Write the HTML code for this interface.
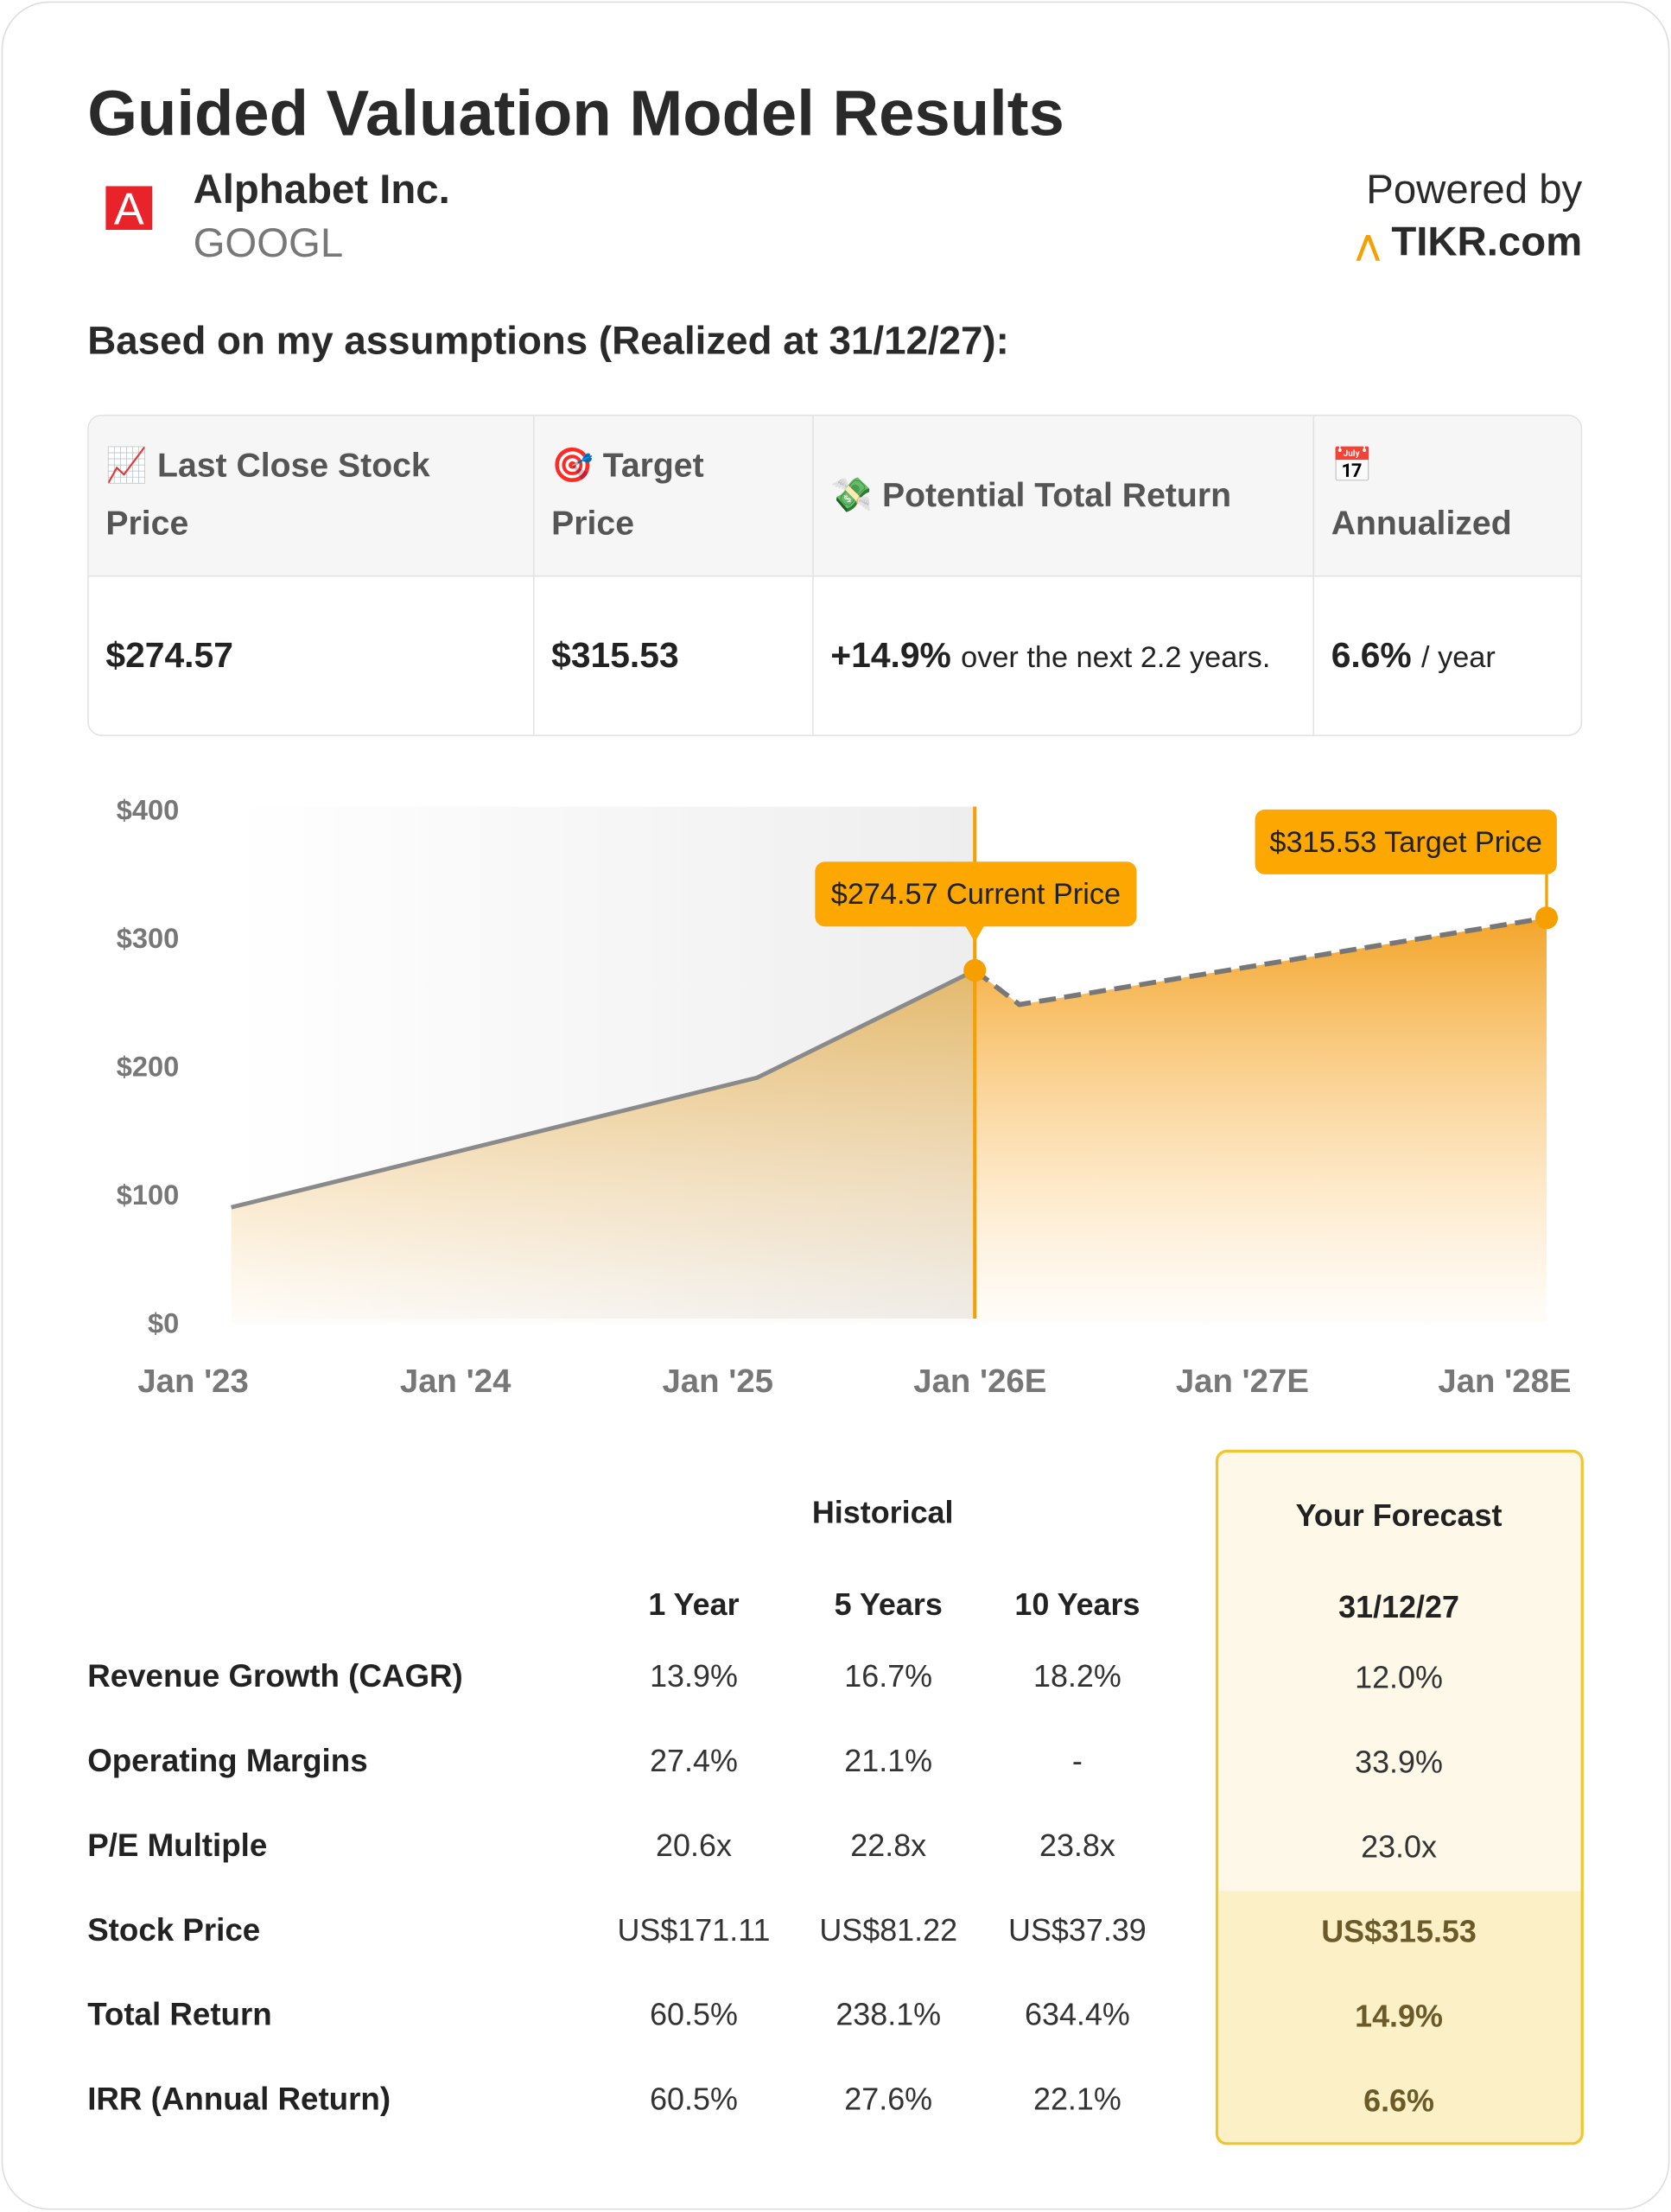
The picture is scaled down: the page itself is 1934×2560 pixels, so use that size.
<!DOCTYPE html>
<html><head><meta charset="utf-8">
<style>
html,body{margin:0;padding:0;background:#fff;}
body{width:1934px;height:2560px;overflow:hidden;}
#wrap{position:absolute;left:0;top:0;width:1185px;height:1568px;transform:scale(1.6321);transform-origin:0 0;font-family:"Liberation Sans","DejaVu Sans",sans-serif;color:#222;}
.card{position:absolute;left:1px;top:1px;width:1181px;height:1564px;border:1.5px solid #ddd;border-radius:34px;background:#fff;}
.abs{position:absolute;white-space:nowrap;}
.tbl{position:absolute;left:62px;top:294px;width:1058px;height:226px;border:1.5px solid #e3e3e3;border-radius:10px;overflow:hidden;}
.hdr{position:absolute;top:0;height:113px;background:#f6f6f6;border-bottom:1.5px solid #e3e3e3;}
.col{position:absolute;top:0;height:226px;border-left:1.5px solid #e3e3e3;}
.ht{font-size:24px;font-weight:bold;color:#555;line-height:41px;}
.val{font-size:25px;font-weight:bold;color:#222;}
.r{font-size:22.5px;font-weight:bold;color:#222;}
.v{font-size:22px;color:#333;text-align:center;width:160px;margin-left:-80px;}
.fv{font-size:22px;text-align:center;width:200px;margin-left:-100px;}
</style></head><body>
<div id="wrap">
<div class="card"></div>
<div class="abs" style="left:62px;top:55px;font-size:45.5px;font-weight:bold;color:#2a2a2a;">Guided Valuation Model Results</div>
<div class="abs" style="left:75px;top:132px;width:33px;height:31px;background:#e8232a;color:#fff;font-size:32px;line-height:33px;text-align:center;">A</div>
<div class="abs" style="left:137px;top:119px;font-size:29px;font-weight:bold;color:#2a2a2a;">Alphabet Inc.</div>
<div class="abs" style="left:137px;top:157px;font-size:29px;color:#777;">GOOGL</div>
<div class="abs" style="right:63px;top:119px;font-size:29px;color:#2a2a2a;">Powered by</div>
<div class="abs" style="right:63px;top:156px;font-size:29px;font-weight:bold;color:#2a2a2a;"><span style="color:#f5a000;font-size:20px;">⋀</span> TIKR.com</div>
<div class="abs" style="left:62px;top:226px;font-size:28px;font-weight:bold;color:#2a2a2a;">Based on my assumptions (Realized at 31/12/27):</div>

<div class="tbl">
  <div class="hdr" style="left:0;width:1060px;"></div>
  <div class="col" style="left:315px;"></div><div class="col" style="left:513px;"></div><div class="col" style="left:868px;"></div>
  <div class="abs ht" style="left:12px;top:15px;">📈 Last Close Stock<br>Price</div>
  <div class="abs ht" style="left:328px;top:15px;">🎯 Target<br>Price</div>
  <div class="abs ht" style="left:526px;top:36px;">💸 Potential Total Return</div>
  <div class="abs ht" style="left:881px;top:15px;">📅<br>Annualized</div>
  <div class="abs val" style="left:12px;top:156px;">$274.57</div>
  <div class="abs val" style="left:328px;top:156px;">$315.53</div>
  <div class="abs val" style="left:526px;top:156px;">+14.9% <span style="font-size:21px;font-weight:normal;">over the next 2.2 years.</span></div>
  <div class="abs val" style="left:881px;top:156px;">6.6% <span style="font-size:21px;font-weight:normal;">/ year</span></div>
</div>

<svg id="chart" style="position:absolute;left:0;top:550px;" width="1185" height="460" viewBox="0 550 1185 460">
<defs>
<linearGradient id="gShade" x1="0" y1="0" x2="1" y2="0"><stop offset="0" stop-color="#fff"/><stop offset="1" stop-color="#eeeeee"/></linearGradient>
<linearGradient id="gHist" x1="0" y1="0" x2="0" y2="1"><stop offset="0" stop-color="#e0ab4a" stop-opacity="0.8"/><stop offset="1" stop-color="#f7c77a" stop-opacity="0.05"/></linearGradient>
<linearGradient id="gFc" x1="0" y1="0" x2="0" y2="1"><stop offset="0" stop-color="#f2a01e" stop-opacity="0.95"/><stop offset="1" stop-color="#ffd08a" stop-opacity="0.05"/></linearGradient>
</defs>
<g id="g"></g>
</svg>

<div class="abs" style="left:626px;top:1060px;font-size:22px;font-weight:bold;transform:translateX(-50%);">Historical</div>
<div class="abs" style="left:862px;top:1028px;width:257px;height:489px;border:2px solid #f0c630;border-radius:8px;background:#fdf8e7;overflow:hidden;">
  <div style="position:absolute;left:0;top:311px;width:100%;height:200px;background:#fbf0c6;"></div>
</div>
<div class="abs" style="left:992px;top:1062px;font-size:22px;font-weight:bold;transform:translateX(-50%);">Your Forecast</div>
<div id="ftable"></div>
</div>

<script>
// Chart data
const years = [2023.145, 2025.15, 2025.98, 2026.15, 2028.16];
const prices = [90, 191, 274.57, 248, 315.53];
const currentIndex = 2;
const yTicks = [0, 100, 200, 300, 400];
const yTickLabels = ['$0', '$100', '$200', '$300', '$400'];
const xTicks = [2023, 2024, 2025, 2026, 2027, 2028];
const xTickLabels = ["Jan '23", "Jan '24", "Jan '25", "Jan '26E", "Jan '27E", "Jan '28E"];

const NS = 'http://www.w3.org/2000/svg';
const X = t => 137 + (t - 2023) * 186;
const Y = v => 938 - v / 400 * 364;
const g = document.getElementById('g');
function mk(tag, attrs, text) {
  const e = document.createElementNS(NS, tag);
  for (const k in attrs) e.setAttribute(k, attrs[k]);
  if (text !== undefined) e.textContent = text;
  g.appendChild(e);
  return e;
}
const x0 = X(years[0]), xc = X(years[currentIndex]), xe = X(years[years.length - 1]);
let el = mk('rect', {x: x0, y: Y(400) - 2, width: xc - x0, height: Y(0) - Y(400) - 1, fill: 'url(#gShade)'});



yTicks.forEach((v, i) => {
  const t = mk('text', {x: 127, y: Y(v) + 7, 'text-anchor': 'end', 'font-size': 20, 'font-weight': 'bold', fill: '#777'}, yTickLabels[i]);
  
  
});
xTicks.forEach((v, i) => {
  const t = mk('text', {x: X(v), y: 987, 'text-anchor': 'middle', 'font-size': 23.5, 'font-weight': 'bold', fill: '#777'}, xTickLabels[i]);
  
  
});

const hist = years.slice(0, currentIndex + 1).map((t, i) => [X(t), Y(prices[i])]);
const fc = years.slice(currentIndex).map((t, i) => [X(t), Y(prices[i + currentIndex])]);
const pts = a => a.map(p => p.join(',')).join(' ');
el = mk('polygon', {points: pts(hist) + ' ' + xc + ',' + Y(0) + ' ' + x0 + ',' + Y(0), fill: 'url(#gHist)'});


el = mk('polygon', {points: pts(fc) + ' ' + xe + ',' + Y(0) + ' ' + xc + ',' + Y(0), fill: 'url(#gFc)'});


el = mk('polyline', {points: pts(hist), fill: 'none', stroke: '#8a8a8a', 'stroke-width': 3});


el = mk('polyline', {points: pts(fc), fill: 'none', stroke: '#777', 'stroke-width': 3.5, 'stroke-dasharray': '12 6'});


el = mk('line', {x1: xc, x2: xc, y1: Y(400) - 2, y2: Y(0) - 3, stroke: '#f5a000', 'stroke-width': 2.5});



function callout(px, py, bx, by, w, label, name) {
  mk('line', {x1: px, x2: px, y1: by + 46, y2: py, stroke: '#f5a000', 'stroke-width': 2});
  const r = mk('rect', {x: bx, y: by, width: w, height: 46, rx: 7, fill: '#fca702'});
  
  
  const t = mk('text', {x: bx + w / 2, y: by + 30, 'text-anchor': 'middle', 'font-size': 21, fill: '#222'}, label);
  
  
  const c = mk('circle', {cx: px, cy: py, r: 8, fill: '#f5a000'});
  
  
}
callout(xc, Y(prices[currentIndex]), 578, 611, 228, '$' + prices[currentIndex].toFixed(2) + ' Current Price', 'current-price');
mk('polygon', {points: (xc - 7) + ',656 ' + (xc + 7) + ',656 ' + xc + ',668', fill: '#fca702'});
callout(xe, Y(prices[prices.length - 1]), 890, 574, 214, '$' + prices[prices.length - 1].toFixed(2) + ' Target Price', 'target-price');

// Bottom table
const rows = ['Revenue Growth (CAGR)', 'Operating Margins', 'P/E Multiple', 'Stock Price', 'Total Return', 'IRR (Annual Return)'];
const colHeads = ['1 Year', '5 Years', '10 Years'];
const colX = [492, 630, 764];
const vals = [['13.9%','16.7%','18.2%'],['27.4%','21.1%','-'],['20.6x','22.8x','23.8x'],['US$171.11','US$81.22','US$37.39'],['60.5%','238.1%','634.4%'],['60.5%','27.6%','22.1%']];
const fvals = ['12.0%','33.9%','23.0x','US$315.53','14.9%','6.6%'];
const ft = document.getElementById('ftable');
let html = '';
colHeads.forEach((h, i) => { html += `<div class="abs v" style="left:${colX[i]}px;top:1125px;font-weight:bold;font-size:22px;color:#222;">${h}</div>`; });
html += `<div class="abs fv" style="left:992px;top:1127px;font-weight:bold;font-size:22px;color:#222;">31/12/27</div>`;
rows.forEach((r, i) => {
  const y = 1176 + i * 60;
  html += `<div class="abs r" style="left:62px;top:${y}px;">${r}</div>`;
  vals[i].forEach((v, j) => { html += `<div class="abs v" style="left:${colX[j]}px;top:${y}px;">${v}</div>`; });
  const bold = i >= 3;
  html += `<div class="abs fv" style="left:992px;top:${y + 1}px;${bold ? 'font-weight:bold;color:#6b5a2a;' : 'color:#333;'}">${fvals[i]}</div>`;
});
ft.innerHTML = html;
</script>
</body></html>
